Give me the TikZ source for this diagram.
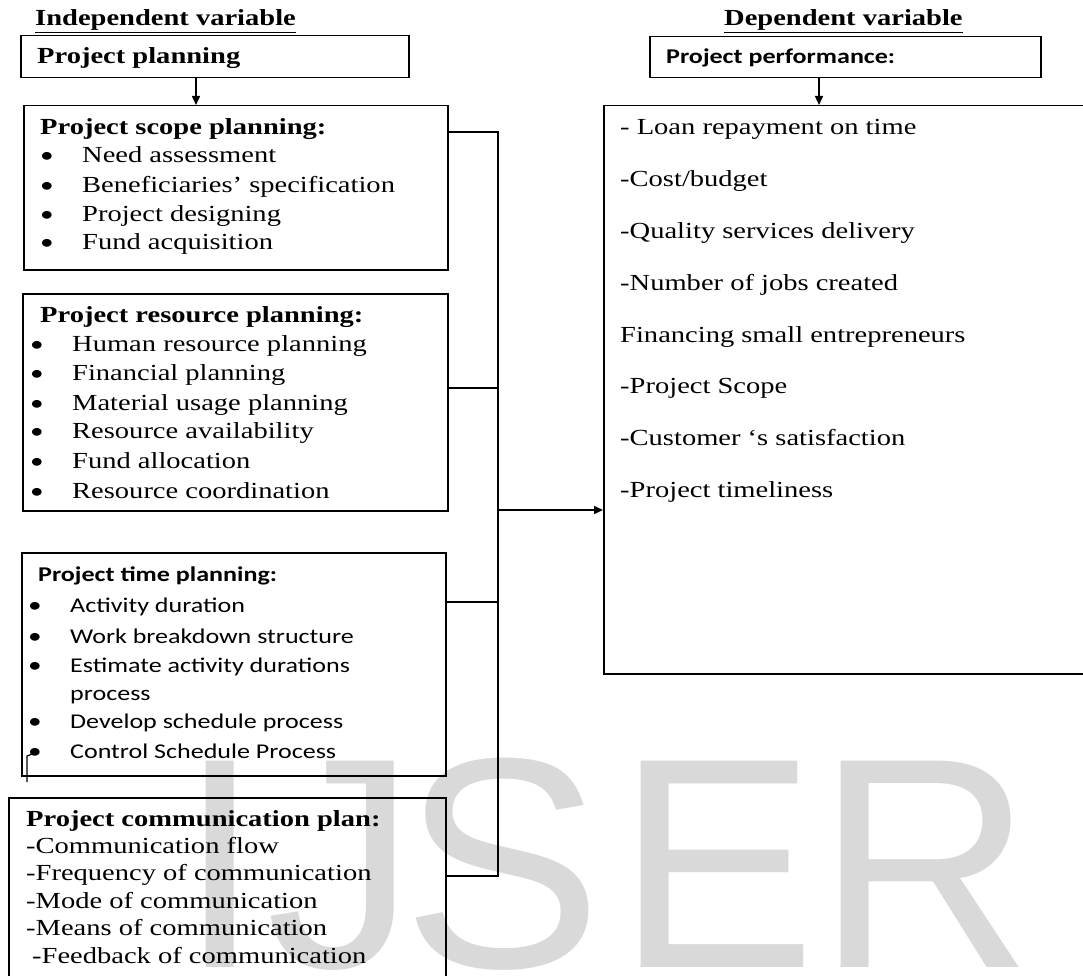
\documentclass[tikz,border=0pt]{standalone}
\usepackage{fontspec}
\setmainfont{Liberation Serif}[FakeStretch=1.24]
\newfontfamily\calfont{Carlito}[FakeStretch=1.24]
\newfontfamily\markfont{Liberation Sans}
\usetikzlibrary{arrows.meta}
\newcommand*{\serifsize}{\fontsize{23}{28}\selectfont}
\newcommand*{\calsize}{\calfont\fontsize{21}{28}\selectfont}
\newcommand*{\bulletmark}{{\calfont\fontsize{22}{28}\selectfont\textbullet}}
\newcommand*{\TextColumn}[2]{% #1 = name, #2 = list of x/y/text
\foreach \x/\y/\entry [count=\i] in {#2} {
\node [txt] (#1-\i) at (\x,\y) {\entry};
}%
}
\newcommand*{\BulletColumn}[4]{% #1 = name, #2 = x of bullet, #3 = x of text, #4 = list of y/text
\foreach \y/\entry [count=\i] in {#4} {
\node [txt] (#1-dot-\i) at (#2,\y) {\bulletmark};
\node [txt] (#1-\i) at (#3,\y) {\entry};
}%
}

\begin{document}
\begin{tikzpicture}[x=1pt, y=-1pt,
    box/.style={draw, line width=1.5pt, inner sep=0pt, anchor=north west},
    txt/.style={inner sep=0pt, anchor=base west, font=\serifsize},
    head/.style={txt, font=\serifsize\bfseries},
    wire/.style={line width=1.5pt},
    tip/.style={wire, -{Triangle[length=9pt, width=8pt]}}]

    \useasboundingbox (0,0) rectangle (1083,976);
    \clip (0,0) rectangle (1083,976);

    % watermark
    \foreach \x/\letter [count=\i] in {178/I,266/J,402/S,616/E,816/R} {
        \node [inner sep=0pt, anchor=base west, text=black!15,
            font=\markfont\fontsize{300}{300}\selectfont] (wm-\i) at (\x,967) {\letter};
    }

    % headings
    \node [head] (indep) at (35,26) {\underline{Independent variable}};
    \node [head] (dep) at (724,26) {\underline{Dependent variable}};

    % boxes
    \node [box, minimum width=388pt, minimum height=42pt] (plan) at (20,35) {};
    \node [box, minimum width=391pt, minimum height=41pt] (perf) at (649,36) {};
    \node [box, minimum width=424pt, minimum height=164pt] (scope) at (23,105) {};
    \node [box, minimum width=425pt, minimum height=217pt] (res) at (22,293) {};
    \node [box, minimum width=424pt, minimum height=223pt] (time) at (21,552) {};
    \node [box, minimum width=437pt, minimum height=220pt] (comm) at (8,797) {};
    \node [box, minimum width=500pt, minimum height=568pt] (depend) at (603,105) {};

    \node [head] (plan-text) at (37,64) {Project planning};
    \node [txt, font=\calsize\bfseries] (perf-text) at (666,64) {Project performance:};

    % scope
    \node [head] (scope-title) at (40,135) {Project scope planning:};
    \BulletColumn{scope}{40}{82}{163/Need assessment, 193/Beneficiaries’ specification,
        222/Project designing, 250/Fund acquisition}

    % resources
    \node [head] (res-title) at (40,322) {Project resource planning:};
    \BulletColumn{res}{30}{72}{351/Human resource planning, 380/Financial planning,
        410/Material usage planning, 438/Resource availability,
        468/Fund allocation, 498/Resource coordination}

    % time
    \begin{scope}[txt/.append style={font=\calsize}]
        \node [txt, font=\calsize\bfseries] (time-title) at (38,581) {Project time planning:};
        \BulletColumn{time}{28}{70}{612/Activity duration, 643/Work breakdown structure,
            672/Estimate activity durations, 728/Develop schedule process,
            758/Control Schedule Process}
        \node [txt] (time-3b) at (70,700) {process};
    \end{scope}
    \coordinate (stub) at (27,782);
    \draw [line width=1.2pt] (stub) -- ++(0,-26) -- (time-dot-5.center);

    % communication
    \node [head] (comm-title) at (26,826) {Project communication plan:};
    \TextColumn{comm}{26/853/-Communication flow, 26/880/-Frequency of communication,
        26/908/-Mode of communication, 26/935/-Means of communication,
        32/963/-Feedback of communication}

    % performance
    \TextColumn{kpi}{620/135/- Loan repayment on time, 620/187/{-Cost/budget},
        620/238/-Quality services delivery, 620/290/-Number of jobs created,
        620/342/Financing small entrepreneurs, 620/393/-Project Scope,
        620/445/-Customer ‘s satisfaction, 620/497/-Project timeliness}

    % connectors
    \coordinate (plan-tap) at (196,0);
    \coordinate (perf-tap) at (819,0);
    \draw [tip] (plan.south -| plan-tap) -- (scope.north -| plan-tap);
    \draw [tip] (perf.south -| perf-tap) -- (depend.north -| perf-tap);

    \coordinate (bus-top) at (498,132);
    \coordinate (res-tap) at (498,388);
    \coordinate (out-tap) at (498,510);
    \coordinate (time-tap) at (498,602);
    \coordinate (bus-bot) at (498,876);
    \draw [wire] (scope.east |- bus-top) -- (bus-top) -- (bus-bot) -- (comm.east |- bus-bot);
    \draw [wire] (res.east |- res-tap) -- (res-tap);
    \draw [wire] (time.east |- time-tap) -- (time-tap);
    \draw [tip] (out-tap) -- (depend.west |- out-tap);

\end{tikzpicture}
\end{document}
